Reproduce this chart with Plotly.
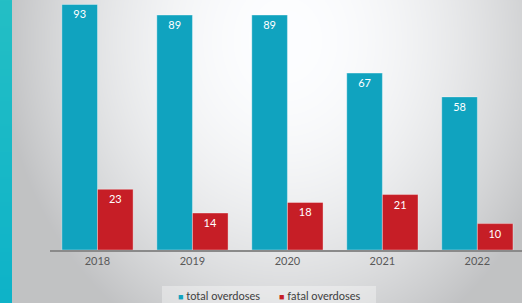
import base64, struct, zlib
import numpy as np
import plotly.graph_objects as go

years = ["2018", "2019", "2020", "2021", "2022"]
total_overdoses = [93, 89, 89, 67, 58]
fatal_overdoses = [23, 14, 18, 21, 10]
series_names = ["total overdoses", "fatal overdoses"]

W, H = 522, 303
ML, MB, MT, MR = 50, 53, 0, 0
PW, PH = W - ML - MR, H - MT - MB

# background gradient image (slide background + teal strip)
yy, xx = np.mgrid[0:H, 0:W].astype(float)
d2 = ((xx - 285) / 265) ** 2 + ((yy - 40) / 310) ** 2
v = np.clip(255 - 52 * d2, 195, 255)
img = np.stack([v - 2, v - 1, v + 0.5], axis=-1)
img = np.clip(img, 0, 255)
t = yy / (H - 1)
strip = xx < 12
img[..., 0] = np.where(strip, 36 - 22 * t, img[..., 0])
img[..., 1] = np.where(strip, 191 - 12 * t, img[..., 1])
img[..., 2] = np.where(strip, 197 + 4 * t, img[..., 2])
arr = img.astype(np.uint8)


def make_png(a):
    h, w, _ = a.shape
    raw = b"".join(b"\x00" + a[r].tobytes() for r in range(h))

    def chunk(tag, data):
        c = struct.pack(">I", len(data)) + tag + data
        return c + struct.pack(">I", zlib.crc32(tag + data) & 0xFFFFFFFF)

    return (b"\x89PNG\r\n\x1a\n" + chunk(b"IHDR", struct.pack(">IIBBBBB", w, h, 8, 2, 0, 0, 0))
            + chunk(b"IDAT", zlib.compress(raw, 9)) + chunk(b"IEND", b""))


bg_src = "data:image/png;base64," + base64.b64encode(make_png(arr)).decode()

TEAL = "#10a3bf"
RED = "#c61e26"
FONT = "Lato"

fig = go.Figure()
for vals, nm, col in [(total_overdoses, series_names[0], TEAL),
                      (fatal_overdoses, series_names[1], RED)]:
    fig.add_trace(go.Bar(
        x=years, y=vals, name=nm,
        marker=dict(color=col, line=dict(color="rgba(255,255,255,0.35)", width=1)),
        text=vals, textposition="inside", insidetextanchor="end",
        textangle=0, textfont=dict(color="white", size=11, family=FONT),
        showlegend=False,
    ))
# legend entries: small coloured square glyph right before the text
for nm, col in [(series_names[0], TEAL), (series_names[1], RED)]:
    fig.add_trace(go.Scatter(
        x=[None], y=[None], mode="markers",
        name=f'<span style="color:{col};font-size:9px">■</span> {nm}',
        marker=dict(symbol="square", size=1, color="rgba(0,0,0,0)"),
    ))
# empty spacer entry so the last legend text is not clipped
fig.add_trace(go.Scatter(
    x=[None], y=[None], mode="markers", name=" ",
    marker=dict(symbol="square", size=1, color="rgba(0,0,0,0)"),
))

fig.update_layout(
    width=W, height=H,
    margin=dict(l=ML, r=MR, t=MT, b=MB, pad=0, autoexpand=False),
    paper_bgcolor="rgba(0,0,0,0)", plot_bgcolor="rgba(0,0,0,0)",
    barmode="group", bargap=0.25, bargroupgap=0,
    font=dict(family=FONT, color="#595959", size=11),
    xaxis=dict(type="category", range=[-0.5, 4.47], showline=True,
               linecolor="#8a8a8a", linewidth=1.5, ticks="", showgrid=False,
               tickfont=dict(size=11, color="#595959", family=FONT),
               automargin=False, fixedrange=True),
    yaxis=dict(range=[0, PH / 2.64], visible=False, showgrid=False,
               automargin=False, fixedrange=True),
    showlegend=True,
    legend=dict(orientation="h", xref="container", yref="container",
                x=(180 - 42) / W, xanchor="left",
                y=(H - 296) / H, yanchor="middle",
                bgcolor="rgba(0,0,0,0)",
                font=dict(size=11, color="#404040", family=FONT),
                itemwidth=30, tracegroupgap=0, entrywidth=56,
                itemclick=False, itemdoubleclick=False),
    shapes=[dict(type="rect", xref="paper", yref="paper", layer="below",
                 x0=(162 - ML) / PW, x1=(376 - ML) / PW,
                 y0=(PH - (H - MT)) / PH, y1=(PH - 286 + MT) / PH,
                 fillcolor="rgba(255,255,255,0.35)", line=dict(width=0))],
    images=[dict(source=bg_src, xref="paper", yref="paper",
                 x=-ML / PW, y=1 + MT / PH, sizex=W / PW, sizey=H / PH,
                 xanchor="left", yanchor="top", sizing="stretch", layer="below")],
)

fig.write_html("out.html", config={"displayModeBar": False},
               post_script="document.body.style.margin='0';document.body.style.overflow='hidden';")
